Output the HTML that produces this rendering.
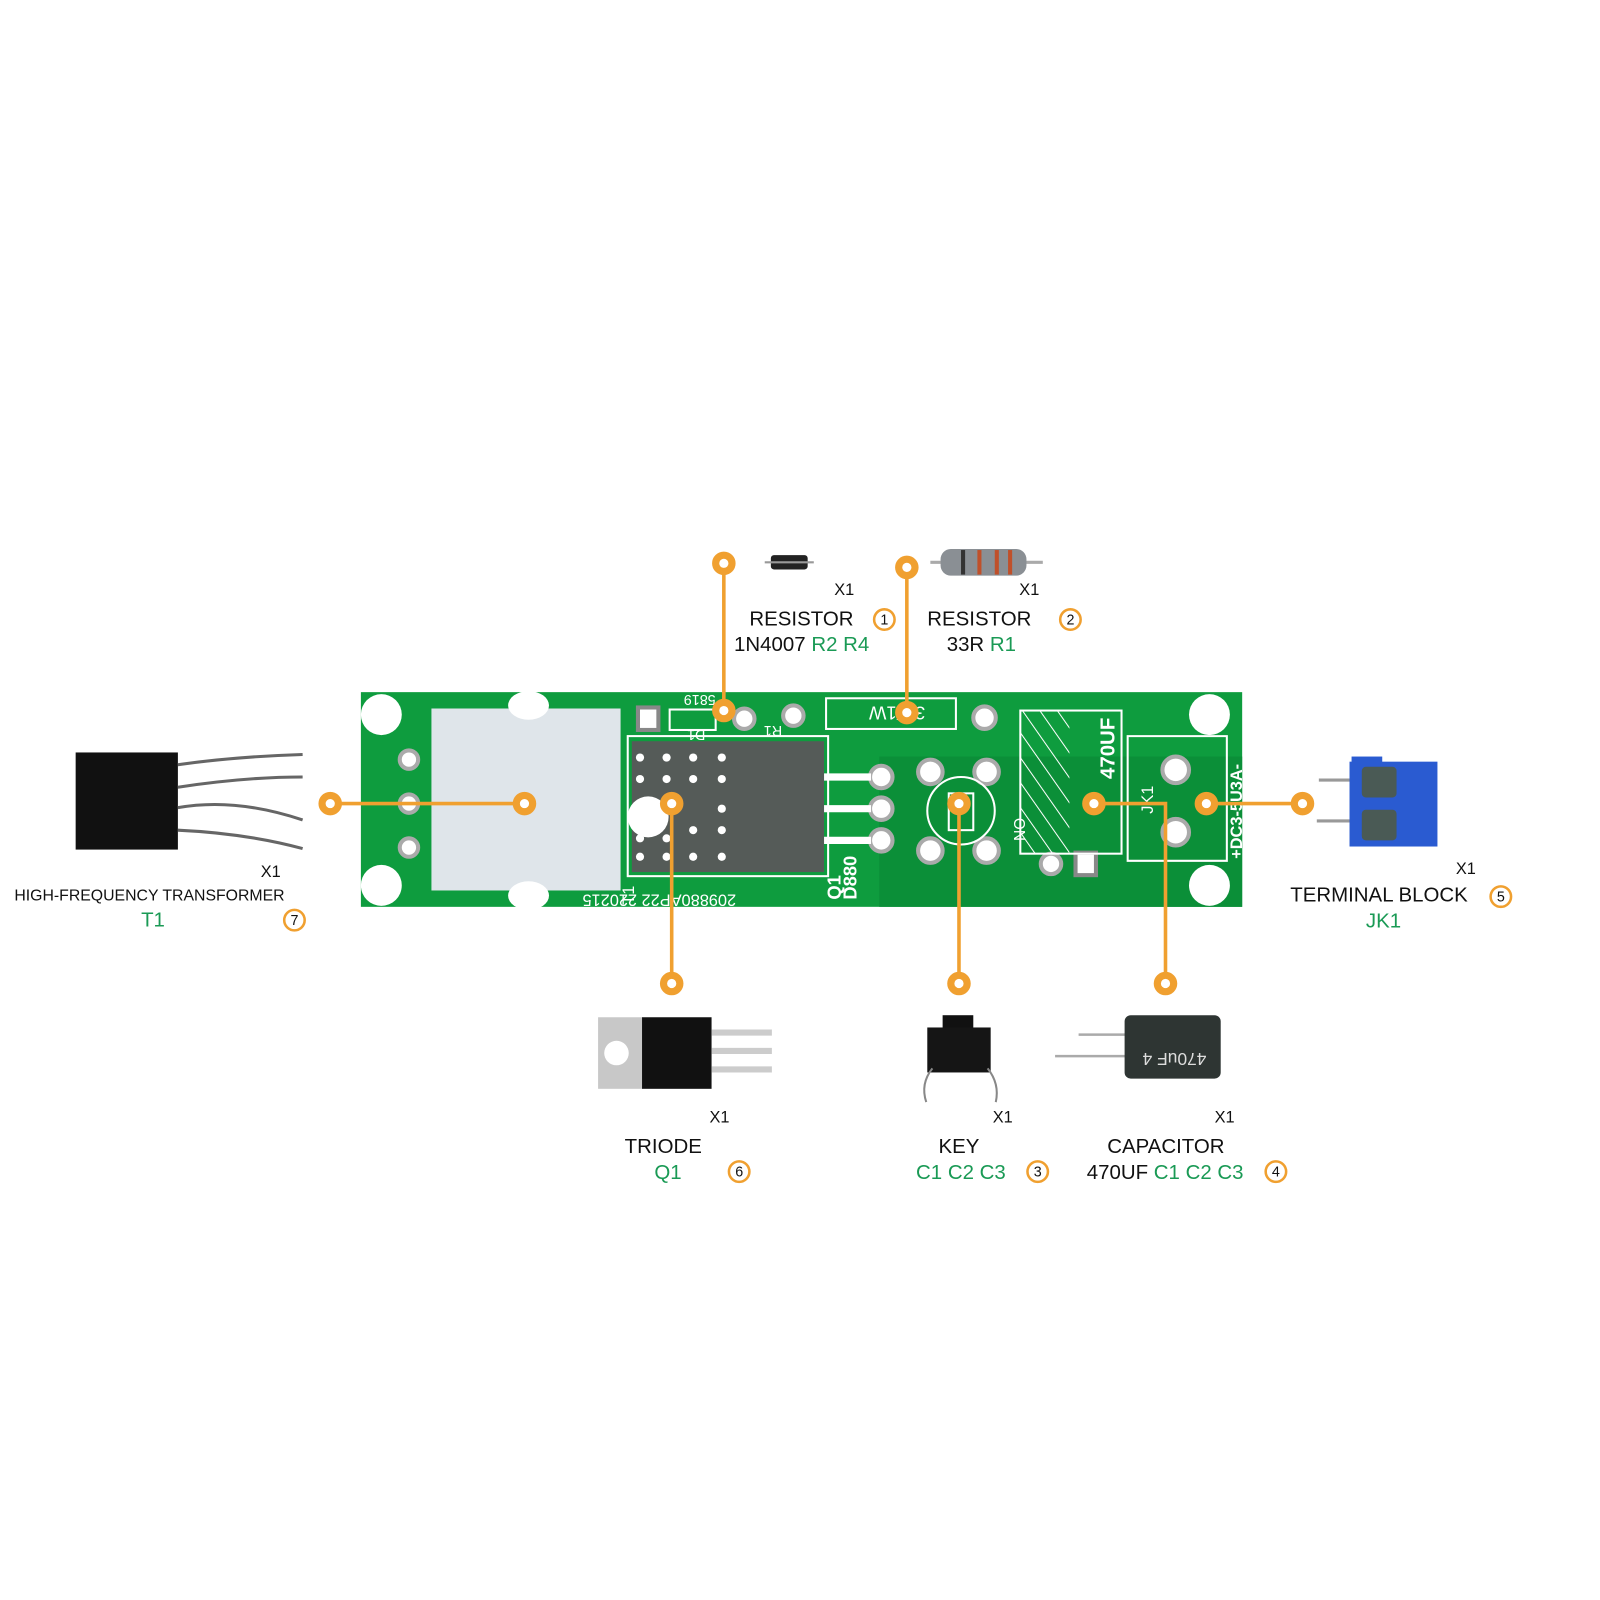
<!DOCTYPE html>
<html><head><meta charset="utf-8"><style>
html,body{margin:0;padding:0;background:#fff;}
svg{display:block}
text{font-family:"Liberation Sans",sans-serif;}
</style></head><body>
<svg width="1600" height="1600" viewBox="0 0 1565 1565" xmlns="http://www.w3.org/2000/svg">
<rect width="1565" height="1565" fill="#fff"/>
<rect x="353" y="677" width="862" height="210" fill="#0e9c3e"/>
<rect x="860" y="740" width="355" height="147" fill="#0b8f38"/>
<rect x="422" y="693" width="185" height="178" fill="#dfe5ea"/>
<g fill="#fff">
<circle cx="373" cy="699" r="20"/><circle cx="373" cy="866" r="20"/>
<circle cx="1183" cy="699" r="20"/><circle cx="1183" cy="866" r="20"/>
<ellipse cx="517" cy="690" rx="20" ry="14"/><ellipse cx="517" cy="876" rx="20" ry="14"/>
</g>
<g fill="#fff" stroke="#aaa" stroke-width="4">
<circle cx="400" cy="743" r="9"/><circle cx="400" cy="786" r="9"/><circle cx="400" cy="829" r="9"/>
<circle cx="728" cy="703" r="10"/><circle cx="776" cy="700" r="10"/><circle cx="963" cy="702" r="11"/>
<circle cx="862" cy="760" r="11"/><circle cx="862" cy="791" r="11"/><circle cx="862" cy="822" r="11"/>
<circle cx="910" cy="755" r="12"/><circle cx="965" cy="755" r="12"/><circle cx="910" cy="832" r="12"/><circle cx="965" cy="832" r="12"/>
<circle cx="1150" cy="753" r="13"/><circle cx="1150" cy="814" r="13"/>
<circle cx="1028" cy="845" r="10"/>
</g>
<rect x="624" y="692" width="20" height="22" fill="#fff" stroke="#888" stroke-width="4"/>
<rect x="1052" y="834" width="20" height="22" fill="#fff" stroke="#888" stroke-width="4"/>
<g fill="none" stroke="#fff" stroke-width="2">
<rect x="614" y="720" width="196" height="137"/>
<rect x="808" y="683" width="127" height="30"/>
<rect x="655" y="694" width="45" height="20"/>
<rect x="998" y="695" width="99" height="140"/>
<path d="M1103 720h97v122h-97z"/>
<circle cx="940" cy="793" r="33"/>
<rect x="928" y="776" width="24" height="36"/>
</g>
<g stroke="#fff" stroke-width="7"><line x1="806" y1="760" x2="852" y2="760"/><line x1="806" y1="791" x2="852" y2="791"/><line x1="806" y1="822" x2="852" y2="822"/></g>
<defs><pattern id="hatch" width="14" height="14" patternUnits="userSpaceOnUse" patternTransform="rotate(-35)"><line x1="0" y1="0" x2="0" y2="14" stroke="#fff" stroke-width="2"/></pattern></defs>
<rect x="998" y="695" width="48" height="140" fill="url(#hatch)"/>
<rect x="618" y="725" width="188" height="128" fill="#555b58"/>
<g fill="#fff">
<circle cx="634" cy="799" r="20"/>
<circle cx="626" cy="741" r="4"/><circle cx="652" cy="741" r="4"/><circle cx="678" cy="741" r="4"/><circle cx="706" cy="741" r="4"/>
<circle cx="626" cy="762" r="4"/><circle cx="652" cy="762" r="4"/><circle cx="678" cy="762" r="4"/><circle cx="706" cy="762" r="4"/>
<circle cx="706" cy="791" r="4"/><circle cx="706" cy="812" r="4"/><circle cx="678" cy="812" r="4"/>
<circle cx="626" cy="820" r="4"/><circle cx="652" cy="820" r="4"/><circle cx="678" cy="838" r="4"/><circle cx="706" cy="838" r="4"/>
<circle cx="626" cy="838" r="4"/><circle cx="652" cy="838" r="4"/>
</g>
<g fill="#fff" font-size="15" font-family="Liberation Mono">
<text transform="translate(905,691) rotate(180)" font-size="18">3R/1W</text>
<text transform="translate(720,875) rotate(180)" font-size="16">209880AP22 220215</text>
<text transform="translate(620,885) rotate(-90)" font-size="16">T1</text>
<text transform="translate(822,880) rotate(-90)" font-size="18" font-weight="bold">Q1</text>
<text transform="translate(838,880) rotate(-90)" font-size="18" font-weight="bold">D880</text>
<text transform="translate(1090,762) rotate(-90)" font-size="20" font-weight="bold">470UF</text>
<text transform="translate(992,800) rotate(90)" font-size="15">ON</text>
<text transform="translate(1128,796) rotate(-90)" font-size="16">JK1</text>
<text transform="translate(1215,840) rotate(-90)" font-size="16" font-weight="bold">+DC3-5U3A-</text>
<text transform="translate(700,680) rotate(180)" font-size="14">5819</text>
<text transform="translate(690,714) rotate(180)" font-size="14">D1</text>
<text transform="translate(765,710) rotate(180)" font-size="14">R1</text>
</g>
<rect x="74" y="736" width="100" height="95" fill="#111"/>
<g stroke="#666" stroke-width="3" fill="none">
<path d="M174 748 Q230 740 296 738"/><path d="M174 770 Q240 760 296 760"/>
<path d="M174 790 Q230 780 296 802"/><path d="M174 812 Q240 815 296 830"/>
</g>
<rect x="754" y="543" width="36" height="14" rx="3" fill="#222"/>
<line x1="748" y1="550" x2="796" y2="550" stroke="#999" stroke-width="2"/>
<line x1="910" y1="550" x2="1020" y2="550" stroke="#aaa" stroke-width="3"/>
<rect x="920" y="537" width="84" height="26" rx="10" fill="#8a8f94"/>
<g stroke="#c0502a" stroke-width="4"><line x1="958" y1="538" x2="958" y2="562"/><line x1="975" y1="538" x2="975" y2="562"/><line x1="988" y1="538" x2="988" y2="562"/></g>
<line x1="942" y1="538" x2="942" y2="562" stroke="#333" stroke-width="4"/>
<g stroke="#999" stroke-width="3"><line x1="1290" y1="763" x2="1330" y2="763"/><line x1="1288" y1="803" x2="1330" y2="803"/></g>
<rect x="1320" y="745" width="86" height="83" fill="#2a5bd1"/>
<rect x="1322" y="740" width="30" height="10" fill="#2a5bd1"/>
<rect x="1332" y="750" width="34" height="30" rx="4" fill="#4a5a55"/>
<rect x="1332" y="792" width="34" height="30" rx="4" fill="#4a5a55"/>
<rect x="585" y="995" width="44" height="70" fill="#c8c8c8"/>
<circle cx="603" cy="1030" r="12" fill="#fff"/>
<rect x="628" y="995" width="68" height="70" fill="#111"/>
<g stroke="#ccc" stroke-width="6"><line x1="696" y1="1010" x2="755" y2="1010"/><line x1="696" y1="1028" x2="755" y2="1028"/><line x1="696" y1="1046" x2="755" y2="1046"/></g>
<rect x="922" y="993" width="30" height="14" fill="#111"/>
<rect x="907" y="1005" width="62" height="44" fill="#151515"/>
<g stroke="#888" stroke-width="2" fill="none"><path d="M912 1045 Q900 1060 906 1078"/><path d="M966 1045 Q978 1060 974 1078"/></g>
<g stroke="#aaa" stroke-width="2.5"><line x1="1055" y1="1012" x2="1102" y2="1012"/><line x1="1032" y1="1033" x2="1102" y2="1033"/></g>
<rect x="1100" y="993" width="94" height="62" rx="6" fill="#2e3533"/>
<text transform="translate(1180,1030) rotate(180)" fill="#ddd" font-size="17">470uF 4</text>
<g stroke="#f0a030" stroke-width="3.5" fill="none">
<line x1="708" y1="551" x2="708" y2="695"/>
<line x1="887" y1="555" x2="887" y2="697"/>
<line x1="323" y1="786" x2="513" y2="786"/>
<line x1="657" y1="786" x2="657" y2="962"/>
<line x1="938" y1="786" x2="938" y2="962"/>
<path d="M1070 786H1140V962"/>
<line x1="1180" y1="786" x2="1274" y2="786"/>
</g>
<g fill="#fff" stroke="#f0a030" stroke-width="7">
<circle cx="708" cy="551" r="8"/><circle cx="708" cy="695" r="8"/>
<circle cx="887" cy="555" r="8"/><circle cx="887" cy="697" r="8"/>
<circle cx="323" cy="786" r="8"/><circle cx="513" cy="786" r="8"/>
<circle cx="657" cy="786" r="8"/><circle cx="657" cy="962" r="8"/>
<circle cx="938" cy="786" r="8"/><circle cx="938" cy="962" r="8"/>
<circle cx="1070" cy="786" r="8"/><circle cx="1140" cy="962" r="8"/>
<circle cx="1180" cy="786" r="8"/><circle cx="1274" cy="786" r="8"/>
</g>
<g font-size="20" fill="#111">
<text x="816" y="582" font-size="16">X1</text>
<text x="733" y="612">RESISTOR</text>
<text x="718" y="637">1N4007 <tspan fill="#1a9a55">R2 R4</tspan></text>
<text x="997" y="582" font-size="16">X1</text>
<text x="907" y="612">RESISTOR</text>
<text x="926" y="637">33R <tspan fill="#1a9a55">R1</tspan></text>
<text x="255" y="858" font-size="16">X1</text>
<text x="14" y="881" font-size="15.5">HIGH-FREQUENCY TRANSFORMER</text>
<text x="138" y="906" fill="#1a9a55">T1</text>
<text x="1424" y="855" font-size="16">X1</text>
<text x="1262" y="882">TERMINAL BLOCK</text>
<text x="1336" y="907" fill="#1a9a55">JK1</text>
<text x="694" y="1098" font-size="16">X1</text>
<text x="611" y="1128">TRIODE</text>
<text x="640" y="1153" fill="#1a9a55">Q1</text>
<text x="971" y="1098" font-size="16">X1</text>
<text x="918" y="1128">KEY</text>
<text x="896" y="1153" fill="#1a9a55">C1 C2 C3</text>
<text x="1188" y="1098" font-size="16">X1</text>
<text x="1083" y="1128">CAPACITOR</text>
<text x="1063" y="1153">470UF <tspan fill="#1a9a55">C1 C2 C3</tspan></text>
</g>
<g fill="#fff" stroke="#f0a030" stroke-width="2.5">
<circle cx="865" cy="606" r="10"/><circle cx="1047" cy="606" r="10"/><circle cx="288" cy="900" r="10"/>
<circle cx="1468" cy="877" r="10"/><circle cx="723" cy="1146" r="10"/><circle cx="1015" cy="1146" r="10"/><circle cx="1248" cy="1146" r="10"/>
</g>
<g font-size="14" fill="#111" text-anchor="middle">
<text x="865" y="611">1</text><text x="1047" y="611">2</text><text x="288" y="905">7</text>
<text x="1468" y="882">5</text><text x="723" y="1151">6</text><text x="1015" y="1151">3</text><text x="1248" y="1151">4</text>
</g>
</svg>
</body></html>
